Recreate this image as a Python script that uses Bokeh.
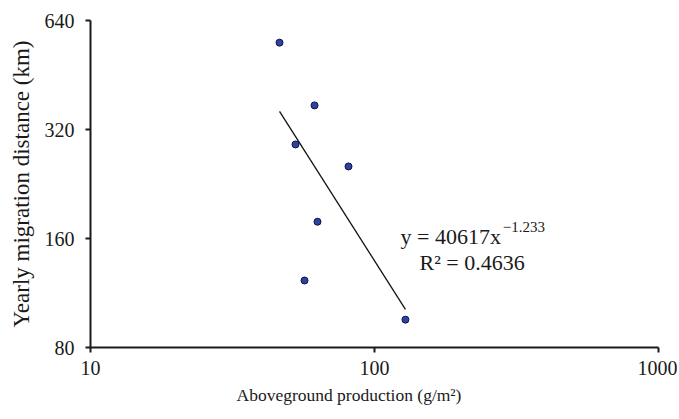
import numpy as np
from bokeh.plotting import figure
from bokeh.models import Range1d, FixedTicker, PrintfTickFormatter, Label, Title
from bokeh.embed import file_html
from bokeh.resources import INLINE

# data
production = [46.3, 61.5, 52.7, 81.0, 63.0, 56.7, 128.5]
distance = [556, 373, 291, 253, 178, 122.5, 95.5]
coef_a = 40617
coef_b = -1.233
r2 = 0.4636
x_ticks = [10, 100, 1000]
y_ticks = [80, 160, 320, 640]

FONT = "Liberation Serif"
INK = "#1a1a1a"

p = figure(width=677, height=417, x_axis_type="log", y_axis_type="log",
           x_range=Range1d(10, 1000), y_range=Range1d(80, 640),
           output_backend="svg", toolbar_location=None,
           min_border_left=90, min_border_right=19, min_border_top=20, min_border_bottom=70)
p.outline_line_color = None
p.grid.grid_line_color = None
p.background_fill_color = "white"

p.xaxis.ticker = FixedTicker(ticks=x_ticks)
p.yaxis.ticker = FixedTicker(ticks=y_ticks)
for ax in (p.xaxis[0], p.yaxis[0]):
    ax.formatter = PrintfTickFormatter(format="%d")
    ax.major_label_text_font = FONT
    ax.major_label_text_font_size = "20px"
    ax.major_label_text_color = INK
    ax.axis_label_text_font = FONT
    ax.axis_label_text_font_style = "normal"
    ax.axis_label_text_color = INK
    ax.axis_line_width = 2
    ax.axis_line_color = INK
    ax.major_tick_line_width = 2
    ax.major_tick_line_color = INK
    ax.major_tick_in = 0
    ax.major_tick_out = 5
    ax.minor_tick_line_color = None
p.yaxis.axis_label = "Yearly migration distance (km)"
p.yaxis.axis_label_text_font_size = "23px"
p.xaxis.major_label_standoff = 8
p.yaxis.major_label_standoff = 11
p.yaxis.axis_label_standoff = 8

# x axis title sits left of the frame centre in the original
p.add_layout(Title(text="Aboveground production (g/m\u00b2)", align="left", offset=146,
                   text_font=FONT, text_font_size="17.5px", text_font_style="normal",
                   text_color=INK, standoff=11), "below")

# power-law trend line from the stated fit
xs = np.array([min(production), max(production)])
ys = coef_a * xs ** coef_b
p.line(xs, ys, line_color="#111111", line_width=1.3)

p.scatter(production, distance, size=7, fill_color="#2B43A6", line_color="#14143a", line_width=1)

p.add_layout(Label(x=123.5, y=162, text=f"y = {coef_a}x", text_font=FONT,
                   text_font_size="22px", text_baseline="alphabetic", text_color=INK))
p.add_layout(Label(x=283, y=171.6, text=f"\u2212{abs(coef_b)}", text_font=FONT,
                   text_font_size="15px", text_baseline="alphabetic", text_color=INK))
p.add_layout(Label(x=144, y=137.4, text=f"R\u00b2 = {r2}", text_font=FONT,
                   text_font_size="22px", text_baseline="alphabetic", text_color=INK))

open("out.html", "w").write(file_html(p, INLINE))
